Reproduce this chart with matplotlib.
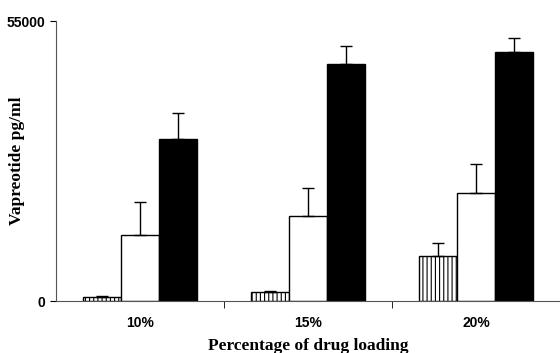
import numpy as np
import matplotlib.pyplot as plt

categories = ["10%", "15%", "20%"]
hatched_vals = [800, 1800, 8800]
hatched_err = [200, 200, 2600]
white_vals = [13000, 16700, 21200]
white_err = [6400, 5500, 5700]
black_vals = [31800, 46500, 48900]
black_err = [5100, 3600, 2800]

plt.rcParams["hatch.linewidth"] = 0.8

fig = plt.figure(figsize=(5.6, 3.53), dpi=100)
ax = fig.add_axes([0.1, 0.147, 0.9, 0.793])

x = np.arange(len(categories))
w = 0.226
err_kw = dict(capsize=4, ecolor="black", elinewidth=1, capthick=1)

ax.bar(x - w, hatched_vals, w, color="white", edgecolor="black", hatch="||||",
       linewidth=1, yerr=[np.zeros(3), hatched_err], error_kw=err_kw)
ax.bar(x, white_vals, w, color="white", edgecolor="black",
       linewidth=1, yerr=[np.zeros(3), white_err], error_kw=err_kw)
ax.bar(x + w, black_vals, w, color="black", edgecolor="black",
       linewidth=1, yerr=[np.zeros(3), black_err], error_kw=err_kw)

ax.set_xlim(-0.5, 2.5)
ax.set_ylim(0, 55000)
ax.set_yticks([0, 55000])
ax.set_yticklabels(["0", "55000"], fontfamily="Liberation Sans", fontweight="bold", fontsize=10)
ax.set_xticks(x)
ax.set_xticklabels(categories, fontfamily="Liberation Sans", fontweight="bold", fontsize=10)
ax.tick_params(axis="x", which="major", length=0, pad=11)
ax.set_xticks([0.5, 1.5], minor=True)
ax.tick_params(axis="x", which="minor", length=5, direction="out")
ax.tick_params(axis="y", length=4, direction="out")

for s in ["top", "right"]:
    ax.spines[s].set_visible(False)
ax.spines["left"].set_color("#555555")
ax.spines["bottom"].set_color("#555555")

ax.set_ylabel("Vapreotide pg/ml", fontfamily="Liberation Serif", fontweight="bold", fontsize=12.5)
ax.set_xlabel("Percentage of drug loading", fontfamily="Liberation Serif", fontweight="bold", fontsize=12.5)
ax.yaxis.set_label_coords(-0.062, 0.5)
ax.xaxis.set_label_coords(0.5, -0.132)

fig.savefig("out.png", dpi=100)
